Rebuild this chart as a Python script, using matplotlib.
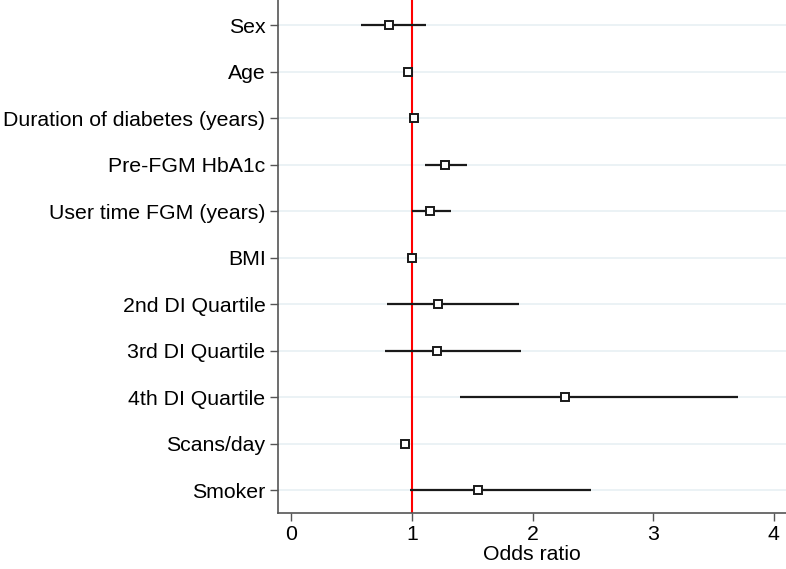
import matplotlib
matplotlib.use("Agg")
import matplotlib.pyplot as plt

labels = ["Sex", "Age", "Duration of diabetes (years)", "Pre-FGM HbA1c",
          "User time FGM (years)", "BMI", "2nd DI Quartile", "3rd DI Quartile",
          "4th DI Quartile", "Scans/day", "Smoker"]
odds = [0.81, 0.97, 1.02, 1.27, 1.15, 1.00, 1.22, 1.21, 2.27, 0.94, 1.55]
ci_low = [0.58, 0.96, 1.01, 1.11, 1.00, 0.99, 0.79, 0.78, 1.40, 0.93, 0.98]
ci_high = [1.12, 0.98, 1.03, 1.46, 1.32, 1.01, 1.89, 1.90, 3.70, 0.95, 2.48]
xticks = [0, 1, 2, 3, 4]

plt.rcParams['font.family'] = ['Liberation Sans', 'DejaVu Sans']

fig = plt.figure(figsize=(7.86, 5.69), dpi=100)
ax = fig.add_axes([278/786, 1 - 513/569, (786 - 278)/786, 513/569])

n = len(labels)
ys = list(range(1, n + 1))

for y in ys:
    ax.axhline(y, color='#e8f0f3', lw=1.2, zorder=0)

ax.axvline(1, color='#ff0000', lw=1.5, zorder=2)
ax.hlines(ys, ci_low, ci_high, color='#1a1a1a', lw=1.6, zorder=3)
ax.plot(odds, ys, linestyle='none', marker='s', markersize=5.5,
        markerfacecolor='white', markeredgecolor='#1a1a1a', markeredgewidth=1.4, zorder=4)

ax.set_xlim(-0.11, 4.1)
ax.set_ylim(n + 0.49, 0.46)
ax.set_yticks(ys)
ax.set_yticklabels(labels, fontsize=15.3)
ax.set_xticks(xticks)
ax.set_xticklabels([str(t) for t in xticks], fontsize=15.3)
ax.set_xlabel("Odds ratio", fontsize=15.3, labelpad=0)

for s in ['top', 'right']:
    ax.spines[s].set_visible(False)
for s in ['left', 'bottom']:
    ax.spines[s].set_color('#555555')
    ax.spines[s].set_linewidth(1.2)
ax.tick_params(axis='both', direction='out', length=6, width=1.0, color='#555555', pad=3)

fig.savefig("out.png", dpi=100)
